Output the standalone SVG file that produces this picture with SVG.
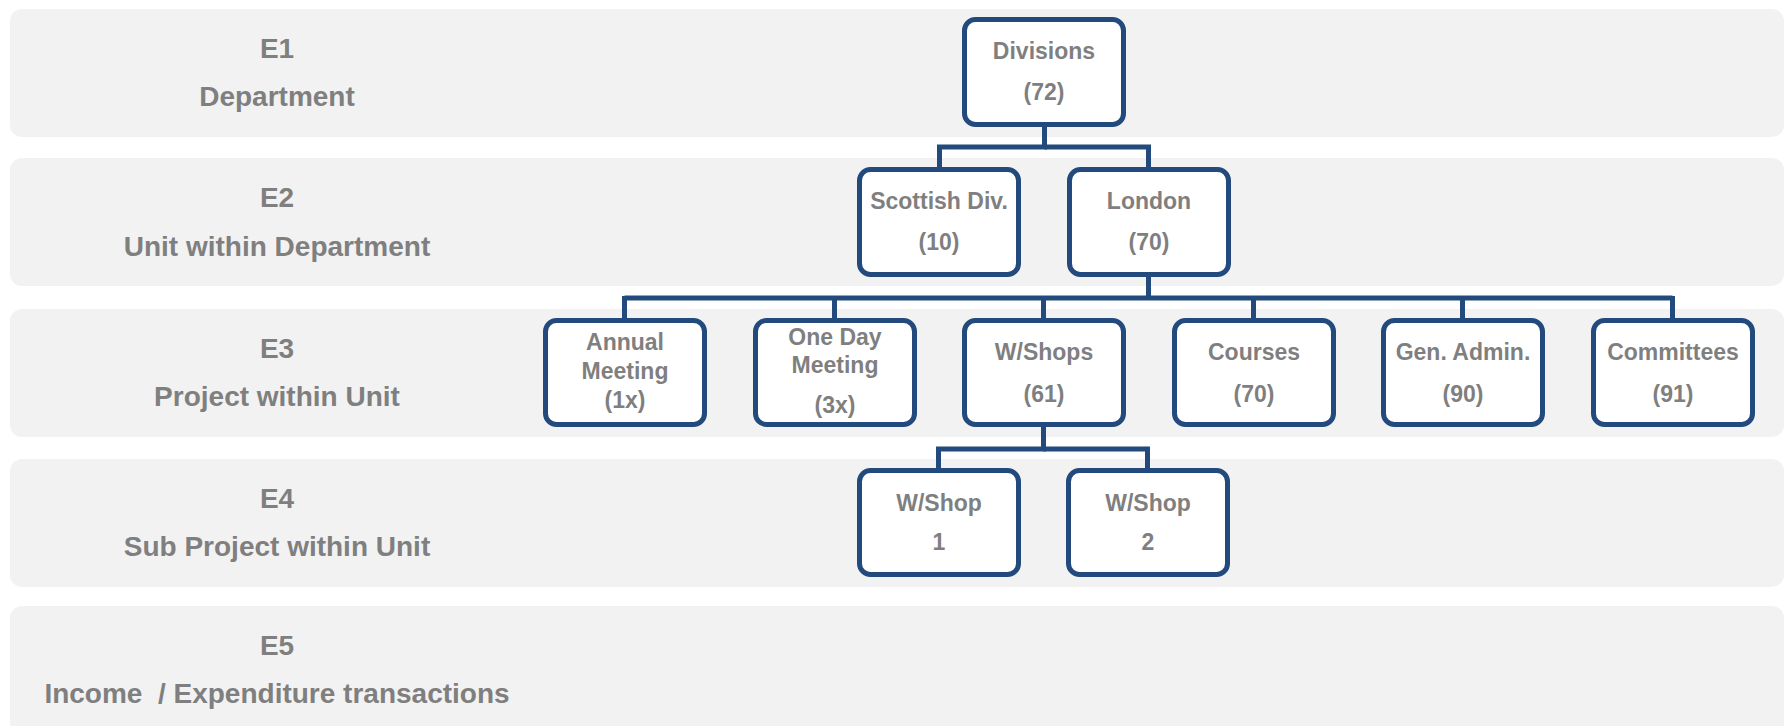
<svg xmlns="http://www.w3.org/2000/svg" width="1787" height="726" viewBox="0 0 1787 726">
<style>
.band{fill:#f2f2f2}
.lbl{font-family:"Liberation Sans",Arial,sans-serif;font-weight:bold;font-size:28px;fill:#7f7f7f;text-anchor:middle}
.box{fill:#ffffff;stroke:#234a7d;stroke-width:5}
.t{font-family:"Liberation Sans",Arial,sans-serif;font-weight:bold;font-size:23px;fill:#7f7f7f;text-anchor:middle}
.c{fill:none;stroke:#234a7d;stroke-width:5}
</style>
<rect width="1787" height="726" fill="#ffffff"/>
<g id="bands">
<rect class="band" x="10" y="9" width="1774" height="128" rx="12"/>
<rect class="band" x="10" y="158" width="1774" height="128" rx="12"/>
<rect class="band" x="10" y="309" width="1774" height="128" rx="12"/>
<rect class="band" x="10" y="459" width="1774" height="128" rx="12"/>
<rect class="band" x="10" y="606" width="1774" height="140" rx="12"/>
</g>
<g id="labels">
<text class="lbl" x="277" y="58">E1</text>
<text class="lbl" x="277" y="106">Department</text>
<text class="lbl" x="277" y="207">E2</text>
<text class="lbl" x="277" y="256">Unit within Department</text>
<text class="lbl" x="277" y="358">E3</text>
<text class="lbl" x="277" y="406">Project within Unit</text>
<text class="lbl" x="277" y="508">E4</text>
<text class="lbl" x="277" y="556">Sub Project within Unit</text>
<text class="lbl" x="277" y="655">E5</text>
<text class="lbl" x="277" y="703" xml:space="preserve">Income  / Expenditure transactions</text>
</g>
<g id="connectors">
<polyline class="c" points="1044.5,124 1044.5,147 939.5,147 939.5,170"/>
<polyline class="c" points="1044.5,147 1148.5,147 1148.5,170"/>
<line class="c" x1="1148.5" y1="274" x2="1148.5" y2="298"/>
<line class="c" x1="624.5" y1="298" x2="1672.5" y2="298"/>
<line class="c" x1="624.5" y1="296" x2="624.5" y2="321"/>
<line class="c" x1="834.5" y1="296" x2="834.5" y2="321"/>
<line class="c" x1="1043.5" y1="296" x2="1043.5" y2="321"/>
<line class="c" x1="1253.5" y1="296" x2="1253.5" y2="321"/>
<line class="c" x1="1462.5" y1="296" x2="1462.5" y2="321"/>
<line class="c" x1="1672.5" y1="296" x2="1672.5" y2="321"/>
<polyline class="c" points="1043.5,424 1043.5,449 938.5,449 938.5,471"/>
<polyline class="c" points="1043.5,449 1147.5,449 1147.5,471"/>
</g>
<g id="node-divisions">
<rect class="box" x="964.5" y="19.5" width="159" height="105" rx="11"/>
<text class="t" x="1044" y="59">Divisions</text>
<text class="t" x="1044" y="100">(72)</text>
</g>
<g id="node-scottish">
<rect class="box" x="859.5" y="169.5" width="159" height="105" rx="11"/>
<text class="t" x="939" y="209">Scottish Div.</text>
<text class="t" x="939" y="250">(10)</text>
</g>
<g id="node-london">
<rect class="box" x="1069.5" y="169.5" width="159" height="105" rx="11"/>
<text class="t" x="1149" y="209">London</text>
<text class="t" x="1149" y="250">(70)</text>
</g>
<g id="node-annual">
<rect class="box" x="545.5" y="320.5" width="159" height="104" rx="11"/>
<text class="t" x="625" y="350">Annual</text>
<text class="t" x="625" y="379">Meeting</text>
<text class="t" x="625" y="408">(1x)</text>
</g>
<g id="node-oneday">
<rect class="box" x="755.5" y="320.5" width="159" height="104" rx="11"/>
<text class="t" x="835" y="345">One Day</text>
<text class="t" x="835" y="373">Meeting</text>
<text class="t" x="835" y="413">(3x)</text>
</g>
<g id="node-wshops">
<rect class="box" x="964.5" y="320.5" width="159" height="104" rx="11"/>
<text class="t" x="1044" y="360">W/Shops</text>
<text class="t" x="1044" y="402">(61)</text>
</g>
<g id="node-courses">
<rect class="box" x="1174.5" y="320.5" width="159" height="104" rx="11"/>
<text class="t" x="1254" y="360">Courses</text>
<text class="t" x="1254" y="402">(70)</text>
</g>
<g id="node-genadmin">
<rect class="box" x="1383.5" y="320.5" width="159" height="104" rx="11"/>
<text class="t" x="1463" y="360">Gen. Admin.</text>
<text class="t" x="1463" y="402">(90)</text>
</g>
<g id="node-committees">
<rect class="box" x="1593.5" y="320.5" width="159" height="104" rx="11"/>
<text class="t" x="1673" y="360">Committees</text>
<text class="t" x="1673" y="402">(91)</text>
</g>
<g id="node-wshop1">
<rect class="box" x="859.5" y="470.5" width="159" height="104" rx="11"/>
<text class="t" x="939" y="511">W/Shop</text>
<text class="t" x="939" y="550">1</text>
</g>
<g id="node-wshop2">
<rect class="box" x="1068.5" y="470.5" width="159" height="104" rx="11"/>
<text class="t" x="1148" y="511">W/Shop</text>
<text class="t" x="1148" y="550">2</text>
</g>
</svg>
